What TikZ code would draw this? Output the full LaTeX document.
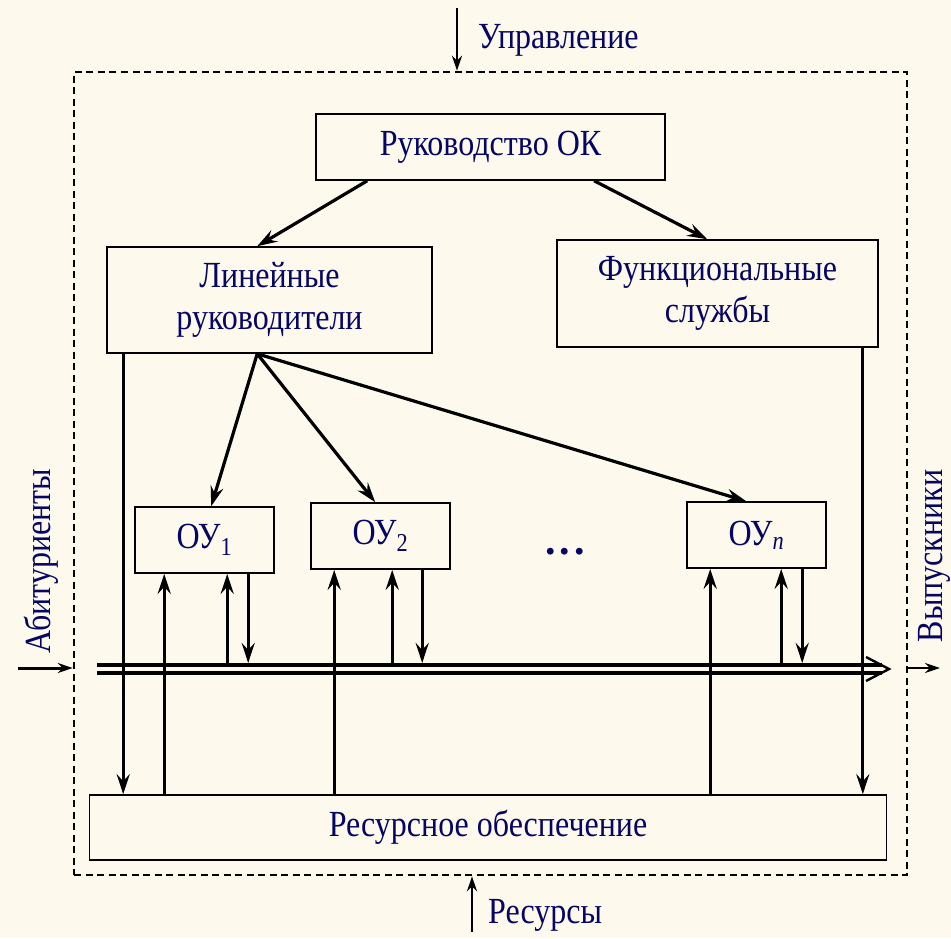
\documentclass[tikz,border=0pt]{standalone}
\usepackage{fontspec}
\setmainfont{Liberation Serif}
\usetikzlibrary{arrows.meta,calc}
\definecolor{bg}{RGB}{253,249,237}
\definecolor{txt}{RGB}{5,5,100}
\newcommand{\vs}[1]{\scalebox{1}[1.15]{#1}}
\tikzset{
  box/.style={draw=black,line width=1.6pt,fill=bg,text=txt,align=center,inner sep=0pt,font=\fontsize{32}{42}\selectfont},
  lbl/.style={text=txt,inner sep=0pt,font=\fontsize{32}{40}\selectfont},
  arr/.style={line width=3.2pt,-{Stealth[length=20pt,width=13pt,inset=7pt]}},
  busline/.style={line width=4pt},
  extarr/.style={line width=2.6pt,-{Stealth[length=15pt,width=10pt,inset=5pt]}},
}
\begin{document}
\begin{tikzpicture}[x=1pt,y=-1pt]
\fill[bg] (0,0) rectangle (951,938);
\useasboundingbox (0,0) rectangle (951,938);
% outer dashed frame
\node[draw=black,line width=2.6pt,dash pattern=on 7pt off 4.5pt,minimum width=833pt,minimum height=803pt,inner sep=0pt] (outer) at (490.5,473.5) {};
% boxes
\node[box,minimum width=349pt,minimum height=66pt] (ruk) at (490.5,147) {\vs{Руководство ОК}};
\node[box,minimum width=325pt,minimum height=106pt] (lin) at (269.5,300) {\vs{Линейные}\\\vs{руководители}};
\node[box,minimum width=321pt,minimum height=107pt] (fun) at (717.5,293.5) {\vs{Функциональные}\\\vs{службы}};
\node[box,minimum width=139pt,minimum height=66pt] (ou1) at (204.5,540) {\vs{ОУ\textsubscript{1}}};
\node[box,minimum width=139pt,minimum height=66pt] (ou2) at (380.5,536) {\vs{ОУ\textsubscript{2}}};
\node[box,minimum width=139pt,minimum height=66pt] (oun) at (756.5,535) {\vs{ОУ\textsubscript{\itshape n}}};
\node[box,minimum width=797pt,minimum height=65pt] (res) at (488,827.5) {\vs{Ресурсное обеспечение}};
\node[lbl,font=\fontsize{42}{44}\selectfont\bfseries,anchor=base] (dots) at (565,554) {.\kern4pt.\kern4pt.};
% external labels
\node[lbl,anchor=west] (upr) at (478,40) {\vs{Управление}};
\node[lbl,anchor=west] (resr) at (488,915) {\vs{Ресурсы}};
\node[lbl,rotate=90] (abit) at (41,561) {\vs{Абитуриенты}};
\node[lbl,rotate=90] (vyp) at (934,556) {\vs{Выпускники}};
% external arrows
\coordinate (ctop) at (457,8);
\draw[extarr] (ctop) -- (ctop |- outer.north);
\coordinate (cbot) at (472,932);
\draw[extarr] (cbot) -- (cbot |- outer.south);
\coordinate (cleft) at (18,668);
\draw[extarr,line width=3pt] (cleft) -- (cleft -| outer.west);
\coordinate (cright) at (940,668);
\draw[extarr] (cright -| outer.east) -- (cright);
% hierarchy arrows
\draw[arr] ([xshift=52pt]ruk.south west) -- ([xshift=151pt]lin.north west);
\draw[arr] ([xshift=279pt]ruk.south west) -- ([xshift=151pt]fun.north west);
\coordinate (lb) at ([xshift=151pt]lin.south west);
\draw[arr] (lb) -- ([xshift=77pt]ou1.north west);
\draw[arr] (lb) -- ([xshift=65pt]ou2.north west);
\draw[arr] (lb) -- ([xshift=60pt]oun.north west);
% side verticals to resources
\coordinate (lv) at ([xshift=17pt]lin.south west);
\draw[arr] (lv) -- (lv |- res.north);
\coordinate (fv) at ([xshift=-16pt]fun.south east);
\draw[arr] (fv) -- (fv |- res.north);
% bus
\coordinate (busA) at (97,669);
\coordinate (busB) at (882,669);
\coordinate (busT) at (889,669);
\draw[busline] ([yshift=4pt]busA) -- ([yshift=4pt]busB);
\draw[busline] ([yshift=-4pt]busA) -- ([yshift=-4pt]busB);
\draw[line width=2.4pt,line join=miter] ([xshift=-23pt,yshift=12pt]busT) -- (busT) -- ([xshift=-23pt,yshift=-12pt]busT);
\coordinate (busU) at (0,663);
% resources up to OU
\coordinate (r1) at ([xshift=30pt]ou1.south west);
\coordinate (r2) at ([xshift=24pt]ou2.south west);
\coordinate (r3) at ([xshift=24pt]oun.south west);
\draw[arr] (r1 |- res.north) -- (r1);
\draw[arr] (r2 |- res.north) -- (r2);
\draw[arr] (r3 |- res.north) -- (r3);
% bus to OU and back
\coordinate (u1) at ([xshift=93pt]ou1.south west);
\coordinate (d1) at ([xshift=114pt]ou1.south west);
\coordinate (u2) at ([xshift=82pt]ou2.south west);
\coordinate (d2) at ([xshift=112pt]ou2.south west);
\coordinate (u3) at ([xshift=95pt]oun.south west);
\coordinate (d3) at ([xshift=116pt]oun.south west);
\draw[arr] (u1 |- busU) -- (u1);
\draw[arr] (u2 |- busU) -- (u2);
\draw[arr] (u3 |- busU) -- (u3);
\draw[arr] (d1) -- (d1 |- busU);
\draw[arr] (d2) -- (d2 |- busU);
\draw[arr] (d3) -- (d3 |- busU);
\end{tikzpicture}
\end{document}
